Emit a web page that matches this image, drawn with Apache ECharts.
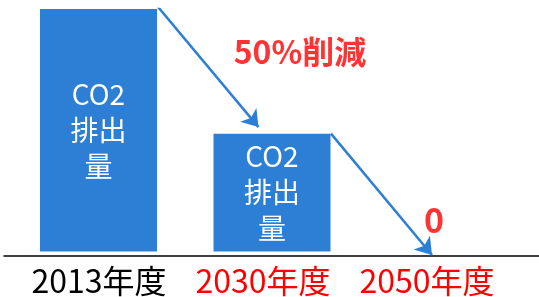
<!DOCTYPE html>
<html>
<head>
<meta charset="utf-8">
<script src="https://cdn.jsdelivr.net/npm/echarts@6/dist/echarts.min.js"></script>
<style>
html,body{margin:0;padding:0;background:#fff;}
#chart{width:539px;height:297px;}
</style>
</head>
<body>
<div id="chart"></div>
<script>
// ---- data ----
const categories = ['2013年度', '2030年度', '2050年度'];
const barLabel = 'CO2\n排出\n量';
const barPositions = [0.5, 1.5];          // x position (in category units) of each bar
const emissions = [100, 48.6];            // CO2 emission (2013 = 100)
const arrowStart = [[0.839, 101.2], [1.840, 48.6]];
const arrowEnd = [[1.422, 51.3], [2.422, -1.44]];
const notes = ['50%削減', '0'];
const notePositions = [[1.661, 82.3], [2.434, 12.8]];

// ---- styles ----
const BLUE = '#2C7FD5';
const RED = '#FF0000';
const FONT = '"Noto Sans CJK JP", "Noto Sans", sans-serif';
const labelColors = ['#000000', RED, RED];
const noteFontSizes = [32, 34];

const chart = echarts.init(document.getElementById('chart'), null, {renderer: 'canvas'});

const option = {
  animation: false,
  backgroundColor: '#ffffff',
  grid: [
    {left: 11.75, width: 520.5, top: 9, bottom: 41.5},   // bars & arrows
    {left: 17, width: 492, top: 9, bottom: 41.5},         // category labels
    {left: 4, right: 0, top: 9, bottom: 41.5}             // baseline
  ],
  xAxis: [
    {type: 'value', gridIndex: 0, min: 0, max: 3, show: false},
    {type: 'category', gridIndex: 1, data: categories, boundaryGap: true,
      axisLine: {show: false}, axisTick: {show: false}, splitLine: {show: false},
      axisLabel: {
        interval: 0, hideOverlap: false,
        margin: 12, fontSize: 32, lineHeight: 30, fontFamily: FONT,
        color: (v, i) => labelColors[i !== undefined ? i : categories.indexOf(v)]
      }},
    {type: 'value', gridIndex: 2, min: 0, max: 1,
      axisLine: {show: true, onZero: false, lineStyle: {color: '#000', width: 1.5}},
      axisTick: {show: false}, axisLabel: {show: false}, splitLine: {show: false}}
  ],
  yAxis: [
    {type: 'value', gridIndex: 0, min: -1.65, max: 100, show: false},
    {type: 'value', gridIndex: 1, min: 0, max: 1, show: false},
    {type: 'value', gridIndex: 2, min: 0, max: 1, show: false}
  ],
  series: [
    {
      type: 'bar', xAxisIndex: 0, yAxisIndex: 0,
      data: barPositions.map((x, i) => [x, emissions[i]]),
      barWidth: 117,
      itemStyle: {color: BLUE},
      label: {
        show: true, position: 'inside', formatter: barLabel,
        color: '#fff', fontSize: 28, lineHeight: 36, fontFamily: FONT, align: 'center'
      }
    },
    {
      type: 'lines', coordinateSystem: 'cartesian2d', xAxisIndex: 0, yAxisIndex: 0,
      data: arrowStart.map((s, i) => ({coords: [s, arrowEnd[i]]})),
      symbol: ['none', 'arrow'], symbolSize: 16,
      lineStyle: {color: BLUE, width: 2.5, opacity: 1, curveness: 0},
      silent: true
    },
    {
      type: 'scatter', xAxisIndex: 0, yAxisIndex: 0,
      symbolSize: 1, itemStyle: {color: 'rgba(0,0,0,0)'},
      data: notePositions.map((p, i) => ({
        value: p,
        label: {
          show: true, position: 'inside', formatter: notes[i],
          color: RED, fontWeight: 'bold', fontSize: noteFontSizes[i], fontFamily: FONT
        }
      }))
    }
  ]
};
chart.setOption(option);
</script>
</body>
</html>
